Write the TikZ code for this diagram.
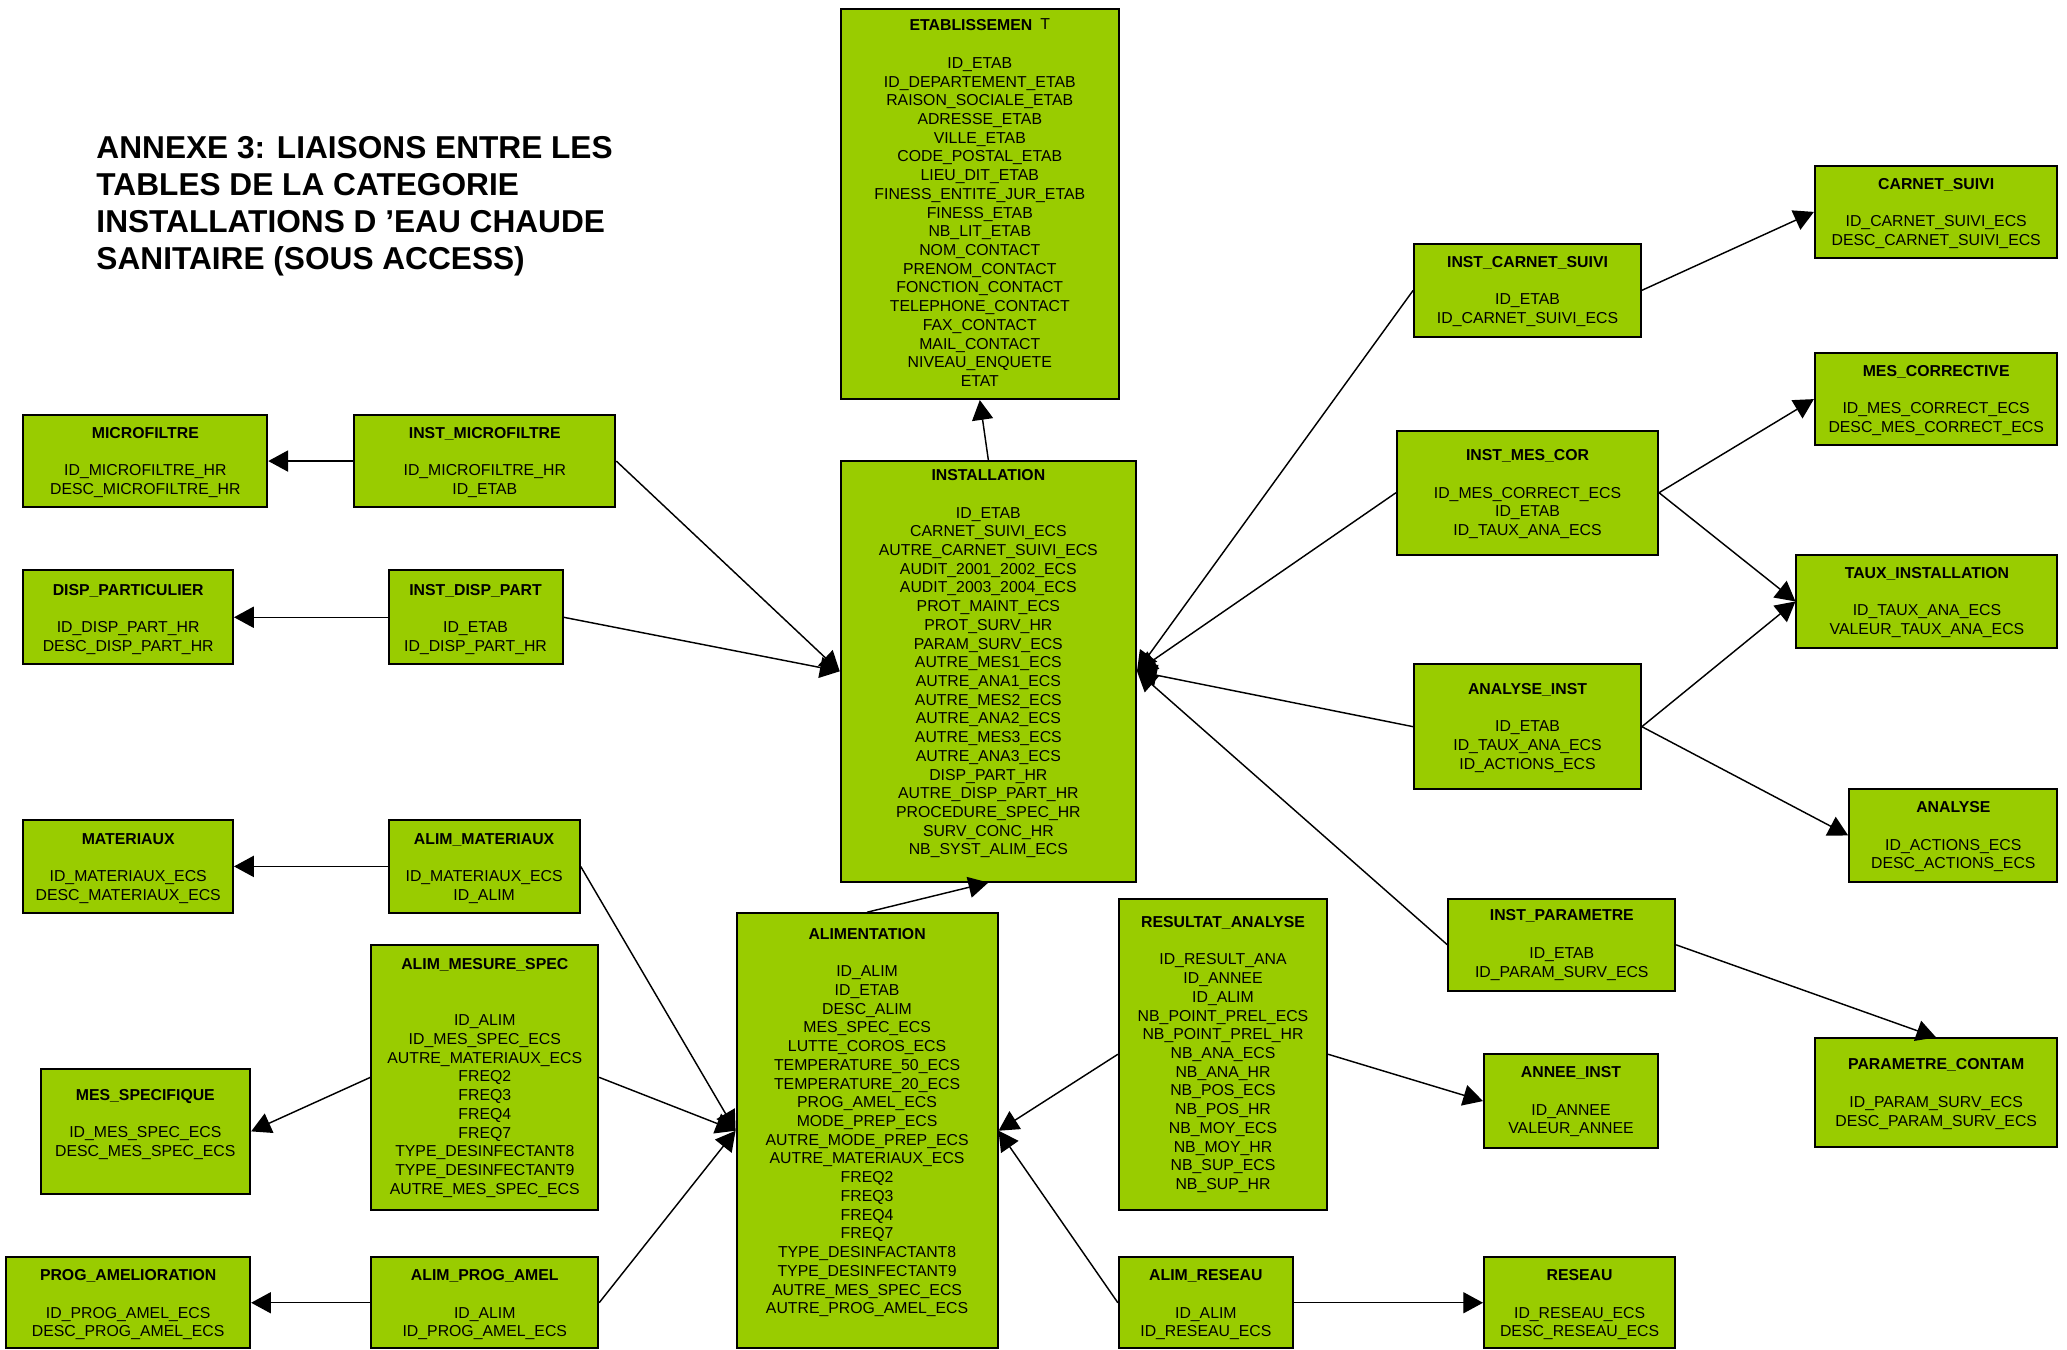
\documentclass[tikz,border=0pt]{standalone}
\usepackage{fontspec}
\setmainfont{Liberation Sans}
\usepackage{xcolor}
\definecolor{tblGreen}{HTML}{99CC00}
\usepackage{tikz}
\usetikzlibrary{arrows.meta, positioning}

\begin{document}
\begin{tikzpicture}[
				x=1pt, y=-1pt,
				tbl/.style={draw=black, line width=1.5pt, fill=tblGreen,
					anchor=north west, inner sep=0pt},
				txt/.style={anchor=north, align=center, inner sep=0pt,
					font=\fontsize{12}{14.2}\selectfont, yshift=-#1},
				txt/.default=10pt,
				link/.style={-{Triangle[length=15pt, width=16pt]}, line width=1.1pt},
			]
			\useasboundingbox (0,0) rectangle (1568,1024);

			% ===== Title =====
			\node[anchor=north west, align=left, inner sep=0pt,
				font=\fontsize{24}{28}\selectfont\bfseries] (title) at (73,103.4)
				{ANNEXE 3: LIAISONS ENTRE LES\\TABLES DE LA CATEGORIE\\
				 INSTALLATIONS D ’EAU CHAUDE\\SANITAIRE (SOUS ACCESS)};

			% ===== Central tables =====
			\node[tbl, minimum width=211pt, minimum height=296pt,
				label={[txt=8pt]north:{\textbf{ETABLISSEMEN}\hspace{6pt}\raisebox{1pt}{T}\\[14.2pt]
					ID\_ETAB\\ID\_DEPARTEMENT\_ETAB\\RAISON\_SOCIALE\_ETAB\\ADRESSE\_ETAB\\
					VILLE\_ETAB\\CODE\_POSTAL\_ETAB\\LIEU\_DIT\_ETAB\\FINESS\_ENTITE\_JUR\_ETAB\\
					FINESS\_ETAB\\NB\_LIT\_ETAB\\NOM\_CONTACT\\PRENOM\_CONTACT\\FONCTION\_CONTACT\\
					TELEPHONE\_CONTACT\\FAX\_CONTACT\\MAIL\_CONTACT\\NIVEAU\_ENQUETE\\ETAT}}]
				(etab) at (637,6) {};
			\node[tbl, minimum width=224pt, minimum height=319pt,
				label={[txt=7pt]north:{\textbf{INSTALLATION}\\[14.2pt]
					ID\_ETAB\\CARNET\_SUIVI\_ECS\\AUTRE\_CARNET\_SUIVI\_ECS\\AUDIT\_2001\_2002\_ECS\\
					AUDIT\_2003\_2004\_ECS\\PROT\_MAINT\_ECS\\PROT\_SURV\_HR\\PARAM\_SURV\_ECS\\
					AUTRE\_MES1\_ECS\\AUTRE\_ANA1\_ECS\\AUTRE\_MES2\_ECS\\AUTRE\_ANA2\_ECS\\
					AUTRE\_MES3\_ECS\\AUTRE\_ANA3\_ECS\\DISP\_PART\_HR\\AUTRE\_DISP\_PART\_HR\\
					PROCEDURE\_SPEC\_HR\\SURV\_CONC\_HR\\NB\_SYST\_ALIM\_ECS}}]
				(inst) at (637,349) {};
			\node[tbl, minimum width=198pt, minimum height=330pt,
				label={[txt=12pt]north:{\textbf{ALIMENTATION}\\[14.2pt]
					ID\_ALIM\\ID\_ETAB\\DESC\_ALIM\\MES\_SPEC\_ECS\\LUTTE\_COROS\_ECS\\
					TEMPERATURE\_50\_ECS\\TEMPERATURE\_20\_ECS\\PROG\_AMEL\_ECS\\MODE\_PREP\_ECS\\
					AUTRE\_MODE\_PREP\_ECS\\AUTRE\_MATERIAUX\_ECS\\FREQ2\\FREQ3\\FREQ4\\FREQ7\\
					TYPE\_DESINFACTANT8\\TYPE\_DESINFECTANT9\\AUTRE\_MES\_SPEC\_ECS\\AUTRE\_PROG\_AMEL\_ECS}}]
				(alim) at (558,692) {};

			% ===== Left side =====
			\node[tbl, minimum width=185pt, minimum height=70pt,
				label={[txt]north:{\textbf{MICROFILTRE}\\[14.2pt]ID\_MICROFILTRE\_HR\\DESC\_MICROFILTRE\_HR}}]
				(microfiltre) at (17,314) {};
			\node[tbl, minimum width=198pt, minimum height=70pt,
				label={[txt]north:{\textbf{INST\_MICROFILTRE}\\[14.2pt]ID\_MICROFILTRE\_HR\\ID\_ETAB}}]
				(instMicro) at (268,314) {};
			\node[tbl, minimum width=159pt, minimum height=71pt,
				label={[txt=11pt]north:{\textbf{DISP\_PARTICULIER}\\[14.2pt]ID\_DISP\_PART\_HR\\DESC\_DISP\_PART\_HR}}]
				(dispPart) at (17,432) {};
			\node[tbl, minimum width=132pt, minimum height=71pt,
				label={[txt=11pt]north:{\textbf{INST\_DISP\_PART}\\[14.2pt]ID\_ETAB\\ID\_DISP\_PART\_HR}}]
				(instDisp) at (294,432) {};
			\node[tbl, minimum width=159pt, minimum height=71pt,
				label={[txt=11pt]north:{\textbf{MATERIAUX}\\[14.2pt]ID\_MATERIAUX\_ECS\\DESC\_MATERIAUX\_ECS}}]
				(materiaux) at (17,621) {};
			\node[tbl, minimum width=145pt, minimum height=71pt,
				label={[txt=11pt]north:{\textbf{ALIM\_MATERIAUX}\\[14.2pt]ID\_MATERIAUX\_ECS\\ID\_ALIM}}]
				(alimMat) at (294,621) {};
			\node[tbl, minimum width=172pt, minimum height=201pt,
				label={[txt=11pt]north:{\textbf{ALIM\_MESURE\_SPEC}\\[28.4pt]
					ID\_ALIM\\ID\_MES\_SPEC\_ECS\\AUTRE\_MATERIAUX\_ECS\\FREQ2\\FREQ3\\FREQ4\\FREQ7\\
					TYPE\_DESINFECTANT8\\TYPE\_DESINFECTANT9\\AUTRE\_MES\_SPEC\_ECS}}]
				(alimMes) at (281,716) {};
			\node[tbl, minimum width=159pt, minimum height=95pt,
				label={[txt=16pt]north:{\textbf{MES\_SPECIFIQUE}\\[14.2pt]ID\_MES\_SPEC\_ECS\\DESC\_MES\_SPEC\_ECS}}]
				(mesSpec) at (30,810) {};
			\node[tbl, minimum width=185pt, minimum height=69pt,
				label={[txt]north:{\textbf{PROG\_AMELIORATION}\\[14.2pt]ID\_PROG\_AMEL\_ECS\\DESC\_PROG\_AMEL\_ECS}}]
				(progAmel) at (4,953) {};
			\node[tbl, minimum width=172pt, minimum height=69pt,
				label={[txt]north:{\textbf{ALIM\_PROG\_AMEL}\\[14.2pt]ID\_ALIM\\ID\_PROG\_AMEL\_ECS}}]
				(alimProg) at (281,953) {};

			% ===== Below right of ALIMENTATION =====
			\node[tbl, minimum width=158pt, minimum height=236pt,
				label={[txt=14pt]north:{\textbf{RESULTAT\_ANALYSE}\\[14.2pt]
					ID\_RESULT\_ANA\\ID\_ANNEE\\ID\_ALIM\\NB\_POINT\_PREL\_ECS\\NB\_POINT\_PREL\_HR\\
					NB\_ANA\_ECS\\NB\_ANA\_HR\\NB\_POS\_ECS\\NB\_POS\_HR\\NB\_MOY\_ECS\\NB\_MOY\_HR\\
					NB\_SUP\_ECS\\NB\_SUP\_HR}}]
				(resultat) at (848,681) {};
			\node[tbl, minimum width=132pt, minimum height=69pt,
				label={[txt]north:{\textbf{ALIM\_RESEAU}\\[14.2pt]ID\_ALIM\\ID\_RESEAU\_ECS}}]
				(alimReseau) at (848,953) {};
			\node[tbl, minimum width=145pt, minimum height=69pt,
				label={[txt]north:{\textbf{RESEAU}\\[14.2pt]ID\_RESEAU\_ECS\\DESC\_RESEAU\_ECS}}]
				(reseau) at (1125,953) {};
			\node[tbl, minimum width=132pt, minimum height=71pt,
				label={[txt]north:{\textbf{ANNEE\_INST}\\[14.2pt]ID\_ANNEE\\VALEUR\_ANNEE}}]
				(annee) at (1125,799) {};

			% ===== Right side =====
			\node[tbl, minimum width=172pt, minimum height=71pt,
				label={[txt]north:{\textbf{INST\_CARNET\_SUIVI}\\[14.2pt]ID\_ETAB\\ID\_CARNET\_SUIVI\_ECS}}]
				(instCarnet) at (1072,184) {};
			\node[tbl, minimum width=184pt, minimum height=70pt,
				label={[txt]north:{\textbf{CARNET\_SUIVI}\\[14.2pt]ID\_CARNET\_SUIVI\_ECS\\DESC\_CARNET\_SUIVI\_ECS}}]
				(carnet) at (1376,125) {};
			\node[tbl, minimum width=198pt, minimum height=94pt,
				label={[txt=15pt]north:{\textbf{INST\_MES\_COR}\\[14.2pt]ID\_MES\_CORRECT\_ECS\\ID\_ETAB\\ID\_TAUX\_ANA\_ECS}}]
				(instMesCor) at (1059,326) {};
			\node[tbl, minimum width=184pt, minimum height=70pt,
				label={[txt]north:{\textbf{MES\_CORRECTIVE}\\[14.2pt]ID\_MES\_CORRECT\_ECS\\DESC\_MES\_CORRECT\_ECS}}]
				(mesCorr) at (1376,267) {};
			\node[tbl, minimum width=198pt, minimum height=71pt,
				label={[txt]north:{\textbf{TAUX\_INSTALLATION}\\[14.2pt]ID\_TAUX\_ANA\_ECS\\VALEUR\_TAUX\_ANA\_ECS}}]
				(taux) at (1362,420) {};
			\node[tbl, minimum width=172pt, minimum height=95pt,
				label={[txt=15pt]north:{\textbf{ANALYSE\_INST}\\[14.2pt]ID\_ETAB\\ID\_TAUX\_ANA\_ECS\\ID\_ACTIONS\_ECS}}]
				(analyseInst) at (1072,503) {};
			\node[tbl, minimum width=158pt, minimum height=70pt,
				label={[txt]north:{\textbf{ANALYSE}\\[14.2pt]ID\_ACTIONS\_ECS\\DESC\_ACTIONS\_ECS}}]
				(analyse) at (1402,598) {};
			\node[tbl, minimum width=172pt, minimum height=70pt,
				label={[txt=9pt]north:{\textbf{INST\_PARAMETRE}\\[14.2pt]ID\_ETAB\\ID\_PARAM\_SURV\_ECS}}]
				(instParam) at (1098,681) {};
			\node[tbl, minimum width=184pt, minimum height=82pt,
				label={[txt=16pt]north:{\textbf{PARAMETRE\_CONTAM}\\[14.2pt]ID\_PARAM\_SURV\_ECS\\DESC\_PARAM\_SURV\_ECS}}]
				(paramContam) at (1376,787) {};

			% ===== Links =====
			\draw[link] (inst.north) -- (etab.south);
			\draw[link] (alim.north) -- (inst.south);
			\draw[link] (instMicro.west) -- (microfiltre.east);
			\draw[link] (instMicro.east) -- (inst.west);
			\draw[link] (instDisp.west) -- (dispPart.east);
			\draw[link] (instDisp.east) -- (inst.west);
			\draw[link] (alimMat.west) -- (materiaux.east);
			\draw[link] (alimMat.east) -- (alim.west);
			\draw[link] (alimMes.west) -- (mesSpec.east);
			\draw[link] (alimMes.east) -- (alim.west);
			\draw[link] (alimProg.west) -- (progAmel.east);
			\draw[link] (alimProg.east) -- (alim.west);
			\draw[link] (resultat.west) -- (alim.east);
			\draw[link] (alimReseau.west) -- (alim.east);
			\draw[link] (alimReseau.east) -- (reseau.west);
			\draw[link] (resultat.east) -- (annee.west);
			\draw[link] (instCarnet.west) -- (inst.east);
			\draw[link] (instCarnet.east) -- (carnet.west);
			\draw[link] (instMesCor.west) -- (inst.east);
			\draw[link] (instMesCor.east) -- (mesCorr.west);
			\draw[link] (instMesCor.east) -- (taux.west);
			\draw[link] (analyseInst.west) -- (inst.east);
			\draw[link] (analyseInst.east) -- (taux.west);
			\draw[link] (analyseInst.east) -- (analyse.west);
			\draw[link] (instParam.west) -- (inst.east);
			\draw[link] (instParam.east) -- (paramContam.north);
\end{tikzpicture}
\end{document}
